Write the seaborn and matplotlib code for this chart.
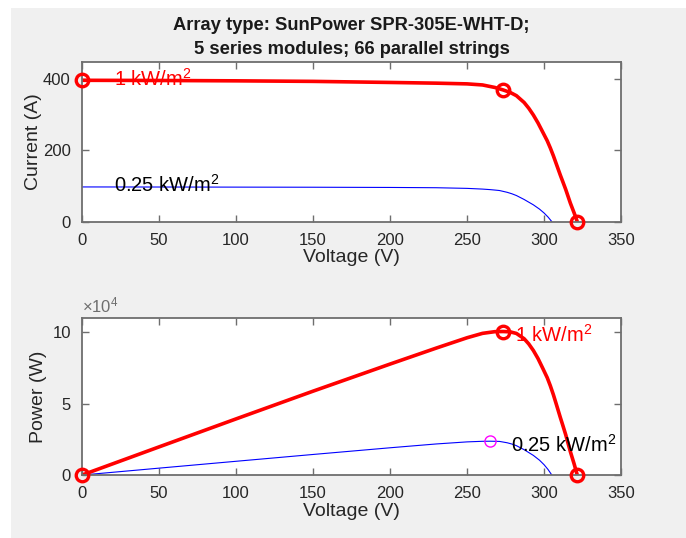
import numpy as np
import pandas as pd
import matplotlib
matplotlib.use('Agg')
import matplotlib.pyplot as plt
import seaborn as sns
from matplotlib.patches import Rectangle

# 1 kW/m^2 curve
v_1000 = [0, 50, 100, 150, 200, 230, 250, 260, 268, 273.4, 278, 282, 287, 290, 293,
          296, 299, 302, 304, 306, 308, 310.5, 312, 314, 317, 319.5, 321.5]
i_1000 = [395, 394.5, 393.5, 392, 389, 387, 385, 382, 375, 368, 361, 352, 333, 317, 298,
          276, 251, 226, 206, 184, 160, 130, 113, 90, 52, 24, 0]
p_1000 = [0, 19725, 39350, 58800, 77800, 89010, 96250, 99320, 100500, 100610, 100360,
          99260, 95570, 91930, 87310, 81700, 75050, 68250, 62620, 56300, 49280, 40365,
          35260, 28260, 16480, 7670, 0]

# 0.25 kW/m^2 curve
v_250 = [0, 50, 100, 150, 200, 230, 250, 260, 265, 268, 271, 276, 279, 282, 287, 293,
         297, 300, 302.5, 305]
i_250 = [97, 96.8, 96.5, 96.2, 95.6, 94.8, 93, 91, 89.5, 88.3, 87, 82, 78, 73, 62, 47,
         35, 24, 13, 0]
p_250 = [0, 4840, 9650, 14430, 19120, 21800, 23250, 23660, 23720, 23660, 23580, 22630,
         21760, 20590, 17790, 13770, 10400, 7200, 3930, 0]

# marked points: short circuit, max power, open circuit
mark_v = [0, 273.4, 321.5]
mark_i = [395, 368, 0]
mark_p = [0, 100610, 0]
mpp_250_v = [265]
mpp_250_p = [23720]

iv_1000 = pd.DataFrame({'V': v_1000, 'I': i_1000, 'P': p_1000})
iv_250 = pd.DataFrame({'V': v_250, 'I': i_250, 'P': p_250})

sns.set_style('ticks')
plt.rcParams['font.family'] = ['Liberation Sans', 'DejaVu Sans']
plt.rcParams['mathtext.fontset'] = 'custom'
plt.rcParams['mathtext.rm'] = 'Liberation Sans'
plt.rcParams['mathtext.it'] = 'Liberation Sans'

fig = plt.figure(figsize=(6.86, 5.38), dpi=100, facecolor='white')
fig.patches.append(Rectangle((11 / 686, 0), 1 - 11 / 686, 530 / 538,
                             transform=fig.transFigure, facecolor='#f0f0f0',
                             edgecolor='none', zorder=-10))

ax1 = fig.add_axes([0.1195, 0.588, 0.786, 0.296])
ax2 = fig.add_axes([0.1195, 0.117, 0.786, 0.2925])

txt = '#262626'


def style(ax):
    ax.set_facecolor('white')
    for s in ax.spines.values():
        s.set_visible(True)
        s.set_color('#6e6e6e')
        s.set_linewidth(1.3)
    ax.tick_params(direction='in', top=True, right=True, length=5, width=1,
                   colors='#6e6e6e', labelcolor=txt, labelsize=12, pad=8)
    ax.set_xlim(0, 350)
    ax.set_xticks(range(0, 351, 50))
    ax.set_xlabel('Voltage (V)', fontsize=14, color=txt, labelpad=1)


# --- I-V ---
sns.lineplot(data=iv_250, x='V', y='I', sort=False, estimator=None, ax=ax1,
             color='blue', linewidth=0.8)
sns.lineplot(data=iv_1000, x='V', y='I', sort=False, estimator=None, ax=ax1,
             color='red', linewidth=2.6)
ax1.plot(mark_v, mark_i, 'o', mfc='none', mec='red', mew=2.4, ms=9, clip_on=False, zorder=5)
style(ax1)
ax1.set_ylim(0, 445)
ax1.set_yticks([0, 200, 400])
ax1.set_ylabel('Current (A)', fontsize=14, color=txt, labelpad=1)
ax1.text(21, 399, '1 kW/m$^2$', color='red', fontsize=14.5, va='center', ha='left')
ax1.text(21, 102, '0.25 kW/m$^2$', color='black', fontsize=14.5, va='center', ha='left')
ax1.set_title('Array type: SunPower SPR-305E-WHT-D;\n5 series modules; 66 parallel strings',
              fontweight='bold', fontsize=13.2, color='#1a1a1a', pad=6, linespacing=1.55)

# --- P-V ---
sns.lineplot(data=iv_250, x='V', y='P', sort=False, estimator=None, ax=ax2,
             color='blue', linewidth=0.8)
sns.lineplot(data=iv_1000, x='V', y='P', sort=False, estimator=None, ax=ax2,
             color='red', linewidth=2.6)
ax2.plot(mark_v, mark_p, 'o', mfc='none', mec='red', mew=2.4, ms=9, clip_on=False, zorder=5)
ax2.plot(mpp_250_v, mpp_250_p, 'o', mfc='none', mec='magenta', mew=1.0, ms=8, zorder=5)
style(ax2)
ax2.set_ylim(0, 110300)
ax2.set_yticks([0, 50000, 100000])
ax2.set_yticklabels(['0', '5', '10'])
ax2.set_ylabel('Power (W)', fontsize=14, color=txt, labelpad=4)
ax2.text(0, 1.015, r'$\times$10$^4$', transform=ax2.transAxes, fontsize=12,
         color='#6e6e6e', ha='left', va='bottom')
ax2.text(281, 98200, '1 kW/m$^2$', color='red', fontsize=14.5, va='center', ha='left')
ax2.text(278.5, 21000, '0.25 kW/m$^2$', color='black', fontsize=14.5, va='center', ha='left')

fig.savefig('out.png', dpi=100, facecolor=fig.get_facecolor())
